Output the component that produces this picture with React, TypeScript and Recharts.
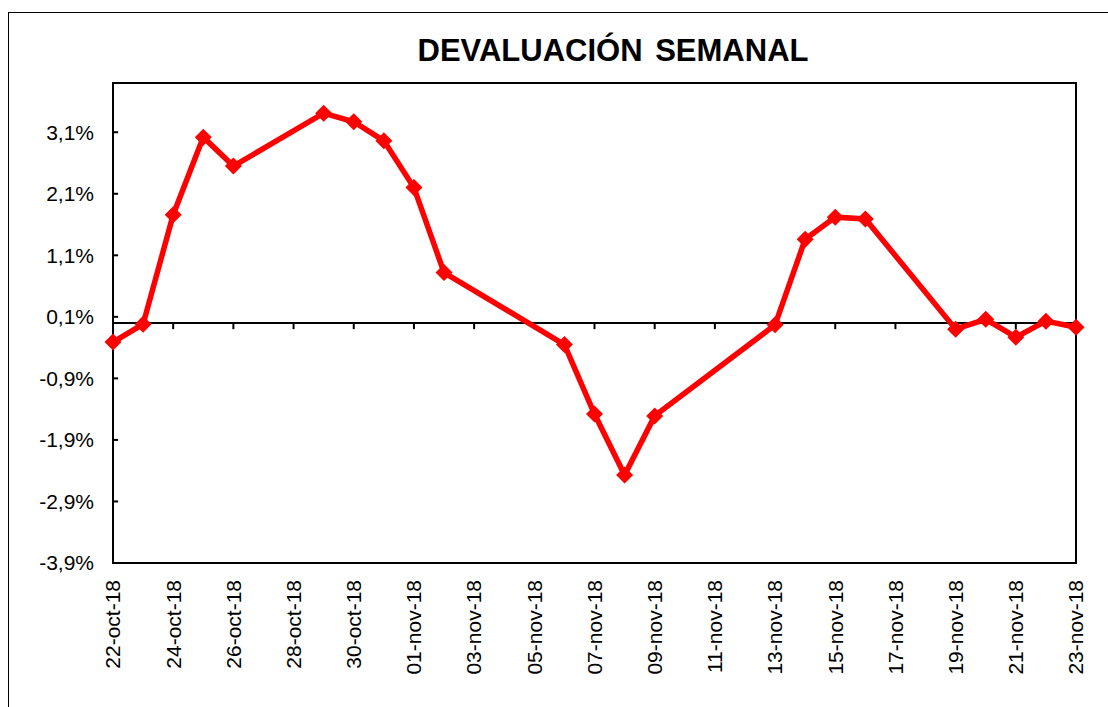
import { LineChart, Line, XAxis, YAxis, ReferenceLine, ReferenceArea } from "recharts"

const MESES = ['ene', 'feb', 'mar', 'abr', 'may', 'jun', 'jul', 'ago', 'sep', 'oct', 'nov', 'dic']

const fechas = [
  '22-oct-18', '23-oct-18', '24-oct-18', '25-oct-18', '26-oct-18',
  '29-oct-18', '30-oct-18', '31-oct-18', '01-nov-18', '02-nov-18',
  '06-nov-18', '07-nov-18', '08-nov-18', '09-nov-18',
  '13-nov-18', '14-nov-18', '15-nov-18', '16-nov-18',
  '19-nov-18', '20-nov-18', '21-nov-18', '22-nov-18', '23-nov-18',
]

const devaluacion = [
  -0.31, -0.02, 1.76, 3.02, 2.55,
  3.41, 3.27, 2.96, 2.20, 0.82,
  -0.35, -1.48, -2.47, -1.51,
  -0.03, 1.36, 1.72, 1.69,
  -0.10, 0.06, -0.23, 0.03, -0.07,
]

const xTicks = [
  '22-oct-18', '24-oct-18', '26-oct-18', '28-oct-18', '30-oct-18',
  '01-nov-18', '03-nov-18', '05-nov-18', '07-nov-18', '09-nov-18',
  '11-nov-18', '13-nov-18', '15-nov-18', '17-nov-18', '19-nov-18',
  '21-nov-18', '23-nov-18',
]

const yTicks = [-3.9, -2.9, -1.9, -0.9, 0.1, 1.1, 2.1, 3.1]

const Y_MIN = -3.9
const Y_MAX = 3.9

// dias desde la primera fecha
const toTime = (s: string) => {
  const [d, m, y] = s.split('-')
  return Date.UTC(2000 + Number(y), MESES.indexOf(m), Number(d))
}
const t0 = toTime(fechas[0])
const dia = (s: string) => Math.round((toTime(s) - t0) / 86400000)

const data = fechas.map((f, i) => ({ dia: dia(f), valor: devaluacion[i] }))
const xTickDays = xTicks.map(dia)
const labelByDay: Record<number, string> = {}
xTicks.forEach((t) => { labelByDay[dia(t)] = t })
const xMax = xTickDays[xTickDays.length - 1]

const FONT = '"Liberation Sans", Arial, sans-serif'

const Diamond = (p: any) => {
  const { cx, cy, index } = p
  if (cx == null || cy == null) return <g key={`d${index}`} />
  const r = 8.5
  return (
    <path
      key={`d${index}`}
      d={`M${cx},${cy - r}L${cx + r},${cy}L${cx},${cy + r}L${cx - r},${cy}Z`}
      fill="#FF0000"
    />
  )
}

const XTick = ({ x, y, payload }: any) => (
  <text
    x={x}
    y={y}
    transform={`rotate(-90 ${x} ${y})`}
    textAnchor="end"
    dy="0.35em"
    fontSize={21}
    fontFamily={FONT}
    fill="#000"
  >
    {labelByDay[payload.value]}
  </text>
)

export default function App() {
  return (
    <div style={{ width: 1108, height: 707, overflow: 'hidden', position: 'relative' }}>
      <style>{'body{margin:0}'}</style>
      <div
        style={{
          position: 'absolute',
          left: 8,
          top: 12,
          width: 1100,
          height: 695,
          boxSizing: 'border-box',
          borderTop: '1px solid #000',
          borderLeft: '1px solid #000',
          fontFamily: FONT,
        }}
      >
        <div
          style={{
            position: 'absolute',
            left: 0,
            width: 1208,
            top: 22,
            textAlign: 'center',
            fontSize: 31,
            lineHeight: '31px',
            fontWeight: 700,
            wordSpacing: 4,
            color: '#000',
          }}
        >
          DEVALUACIÓN SEMANAL
        </div>
        <LineChart
          width={1099}
          height={679}
          data={data}
          margin={{ top: 70, right: 32, bottom: 0, left: 0 }}
        >
          <XAxis
            dataKey="dia"
            type="number"
            domain={[0, xMax]}
            ticks={xTickDays}
            interval={0}
            axisLine={false}
            tickLine={false}
            tickSize={0}
            tickMargin={17}
            height={129}
            tick={<XTick />}
          />
          <YAxis
            type="number"
            domain={[Y_MIN, Y_MAX]}
            ticks={yTicks}
            interval={0}
            axisLine={false}
            tickLine={false}
            tickSize={6}
            tickMargin={13}
            width={104}
            tickFormatter={(v: number) => v.toFixed(1).replace('.', ',') + '%'}
            tick={{ fontSize: 21, fill: '#000', fontFamily: FONT }}
          />
          <ReferenceArea
            x1={0}
            x2={xMax}
            y1={Y_MIN}
            y2={Y_MAX}
            fill="none"
            stroke="#000"
            strokeWidth={2}
          />
          {yTicks.map((v) => (
            <ReferenceLine
              key={`yt${v}`}
              segment={[{ x: 0, y: v }, { x: 0.17, y: v }]}
              stroke="#000"
              strokeWidth={2}
            />
          ))}
          <ReferenceLine y={0} stroke="#000" strokeWidth={2} />
          {xTickDays.slice(1).map((d) => (
            <ReferenceLine
              key={`xt${d}`}
              segment={[{ x: d, y: 0 }, { x: d, y: -0.1 }]}
              stroke="#000"
              strokeWidth={2}
            />
          ))}
          <Line
            type="linear"
            dataKey="valor"
            stroke="#FF0000"
            strokeWidth={5.5}
            dot={Diamond}
            activeDot={false}
            isAnimationActive={false}
          />
        </LineChart>
      </div>
    </div>
  )
}
